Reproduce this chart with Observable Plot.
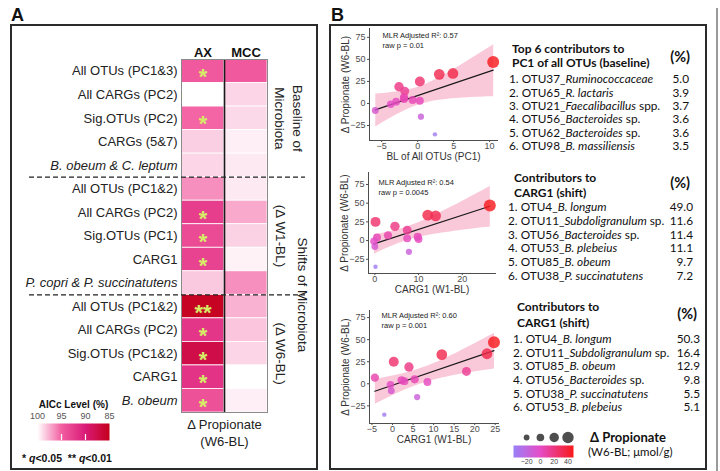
<!DOCTYPE html>
<html>
<head>
<meta charset="utf-8">
<script src="https://cdn.jsdelivr.net/npm/d3@7"></script>
<script src="https://cdn.jsdelivr.net/npm/@observablehq/plot@0.6"></script>
<style>
  html,body{margin:0;padding:0;background:#fff;}
  #root{position:relative;width:720px;height:471px;overflow:hidden;background:#fff;font-family:"Liberation Sans",Arial,Helvetica,sans-serif;color:#111;}
  #root > div{position:absolute;}
  #root svg{display:block;}
  .box{border:2px solid #2b2b2b;box-sizing:border-box;}
  .letter{font-weight:bold;font-size:18px;line-height:18px;}
  .tbl{font-family:Lato,"Open Sans",sans-serif;color:#111;white-space:nowrap;}
  .tbl-title{font-weight:bold;font-size:12px;}
  .tbl-pct{font-weight:bold;font-size:14.5px;line-height:16px;text-align:right;}
  .tbl-row{display:flex;justify-content:space-between;gap:4px;font-size:11.8px;}
  .tbl-row span{display:inline-block;}
</style>
</head>
<body>
<div id="root"></div>
<script>
// ---------------- DATA ----------------
// Panel A: heatmap of AICc level (%)
const rowLabels = ["All OTUs (PC1&3)", "All CARGs (PC2)", "Sig.OTUs (PC2)", "CARGs (5&7)", "B. obeum & C. leptum",
  "All OTUs (PC1&2)", "All CARGs (PC2)", "Sig.OTUs (PC1)", "CARG1", "P. copri & P. succinatutens",
  "All OTUs (PC1&2)", "All CARGs (PC2)", "Sig.OTUs (PC1&2)", "CARG1", "B. obeum"];
const rowItalic = [0, 0, 0, 0, 1, 0, 0, 0, 0, 1, 0, 0, 0, 0, 1];
const heatColumns = ["AX", "MCC"];
const aiccAX = [94.6, 100, 95.2, 98.5, 98.7, 96.5, 92.5, 93.5, 93.0, 98.3, 85.5, 92.0, 87.5, 91.8, 94.0];
const aiccMCC = [94.6, 98.7, 98.8, 99.5, 99.3, 99.3, 97.3, 98.6, 99.6, 96.5, 97.6, 98.2, 98.7, 100, 99.5];
const sigAX = ["*", "", "*", "", "", "", "*", "*", "*", "", "**", "*", "*", "*", "*"];
const groupBreaks = [5, 10];
const outerGroups = [{label: "Baseline of\nMicrobiota", from: 0, to: 5}, {label: "Shifts of Microbiota", from: 5, to: 15}];
const innerGroups = [{label: "(Δ W1-BL)", from: 5, to: 10}, {label: "(Δ W6-BL)", from: 10, to: 15}];
const heatXLabel = "Δ Propionate\n(W6-BL)";
const aiccTicks = [100, 95, 90, 85];
const aiccLegendTitle = "AICc Level (%)";

// Panel B: scatter plots (same subjects, Δ propionate W6-BL)
const deltaPropionate = [47, 34, 33, 25, 19, 14, 7, 5, 4, 3, 2, -1, -8, -15, -35];
const blAllOtusPC1 = [10.5, 4.9, 3.0, 0.3, -2.6, -1.8, -1.9, -1.9, -0.7, 0.3, -3.0, -3.75, -5.9, 0.45, 2.4];
const carg1ShiftA = [26.3, 12.1, 13.9, 0.15, 4.6, 7.4, 3.0, 9.8, 0.5, 7.4, 10.0, -0.2, 0.0, 7.8, 0.15];
const carg1ShiftB = [24.7, 23.0, 12.0, 0.3, 4.0, 18.0, -4.3, 5.4, 2.2, 2.9, 8.5, -0.5, -0.3, 6.0, -2.0];
const mlrR2 = ["0.57", "0.54", "0.60"];
const rawP = ["0.01", "0.0045", "0.001"];
const scatterYLabel = "Δ Propionate (W6-BL)";
const scatterXLabels = ["BL of All OTUs (PC1)", "CARG1 (W1-BL)", "CARG1 (W1-BL)"];
const xTickSets = [[-5, 0, 5, 10], [0, 10, 20], [-5, 0, 5, 10, 15, 20, 25]];
const yTicks = [-25, 0, 25, 50, 75];
const propLegendTicks = [-20, 0, 20, 40];
const propLegendTitle = "Δ Propionate";
const propLegendUnit = "(W6-BL; μmol/g)";

// Contributor tables
const table1Title = ["Top 6 contributors to", "PC1 of all OTUs (baseline)"];
const table1Names = ["OTU37_*Ruminococcaceae*", "OTU65_*R. lactaris*", "OTU21_*Faecalibacillus* spp.", "OTU56_*Bacteroides* sp.", "OTU62_*Bacteroides* sp.", "OTU98_*B. massiliensis*"];
const table1Pct = ["5.0", "3.9", "3.7", "3.6", "3.6", "3.5"];
const table2Title = ["Contributors to", "CARG1 (shift)"];
const table2Names = ["OTU4_*B. longum*", "OTU11_*Subdoligranulum* sp.", "OTU56_*Bacteroides* sp.", "OTU53_*B. plebeius*", "OTU85_*B. obeum*", "OTU38_*P. succinatutens*"];
const table2Pct = ["49.0", "11.6", "11.4", "11.1", "9.7", "7.2"];
const table3Title = ["Contributors to", "CARG1 (shift)"];
const table3Names = ["OTU4_*B. longum*", "OTU11_*Subdoligranulum* sp.", "OTU85_*B. obeum*", "OTU56_*Bacteroides* sp.", "OTU38_*P. succinatutens*", "OTU53_*B. plebeius*"];
const table3Pct = ["50.3", "16.4", "12.9", "9.8", "5.5", "5.1"];

// ---------------- SCALES ----------------
const aiccColor = {type: "linear", domain: [100, 95, 90, 85], range: ["#ffffff", "#f25fa0", "#da1a78", "#c4001a"], interpolate: "rgb", clamp: true};
const propColor = {type: "linear", domain: [-39, 0, 48], range: ["#9a80f7", "#e64cc6", "#f71a1a"], interpolate: "rgb", clamp: true};
const propR = {type: "linear", domain: [-35, 47], range: [2.2, 6], clamp: true};

// ---------------- HELPERS ----------------
const root = document.getElementById("root");
function place(el, left, top, width, height, cls) {
  const d = document.createElement("div");
  d.style.left = left + "px"; d.style.top = top + "px";
  if (width != null) d.style.width = width + "px";
  if (height != null) d.style.height = height + "px";
  if (cls) d.className = cls;
  if (el) { if (typeof el === "string") d.innerHTML = el; else d.appendChild(el); }
  root.appendChild(d);
  return d;
}
const italicize = s => s.replace(/\*(.+?)\*/g, "<i>$1</i>");
const baseFont = "'Liberation Sans', Arial, Helvetica, sans-serif";

// ---------------- FRAMES ----------------
place(null, 10, 24, 308, 446, "box");
place(null, 329, 24, 378, 446, "box");
place(null, 716, 8, 2, 463).style.background = "#9a9a9a";
place("A", 11, 6, null, null, "letter");
place("B", 331, 6, null, null, "letter");

// ---------------- PANEL A: HEATMAP ----------------
const rows = rowLabels.map((label, i) => ({label, row: i, italic: !!rowItalic[i], sig: sigAX[i]}));
const cells = rows.flatMap(r => [
  {row: r.row, col: 0, value: aiccAX[r.row]},
  {row: r.row, col: 1, value: aiccMCC[r.row]}
]);

const heat = Plot.plot({
  width: 306, height: 444,
  marginLeft: 170, marginRight: 50, marginTop: 34, marginBottom: 57,
  style: {fontFamily: baseFont, fontSize: "13px", color: "#222", background: "transparent", overflow: "visible"},
  x: {domain: [0, heatColumns.length], axis: null},
  y: {domain: [0, rows.length], reverse: true, axis: null},
  color: aiccColor,
  marks: [
    Plot.rect(cells, {x1: "col", x2: d => d.col + 1, y1: "row", y2: d => d.row + 1, fill: "value", stroke: "#ffffff", strokeWidth: 0.8}),
    Plot.ruleX([1], {stroke: "#1a1a1a", strokeWidth: 1.6}),
    Plot.frame({stroke: "#8a8a8a", strokeWidth: 1}),
    Plot.text(rows.filter(d => d.sig), {x: 0.5, y: d => d.row + 0.5, text: "sig", fill: "#d6ec66", fontSize: 22, fontWeight: "bold", dy: 6}),
    Plot.text(rows.filter(d => !d.italic), {x: 0, y: d => d.row + 0.5, text: "label", textAnchor: "end", dx: -4, fill: "#222"}),
    Plot.text(rows.filter(d => d.italic), {x: 0, y: d => d.row + 0.5, text: "label", textAnchor: "end", dx: -4, fontStyle: "italic", fill: "#222"}),
    Plot.text(heatColumns, {x: (d, i) => i + 0.5, frameAnchor: "top", dy: -12, fontWeight: "bold", fill: "#111"}),
    Plot.ruleY(groupBreaks, {stroke: "#222", strokeWidth: 1.2, strokeDasharray: "5,3", insetLeft: -152, insetRight: -38}),
    Plot.text([outerGroups[0]], {y: d => (d.from + d.to) / 2, text: "label", frameAnchor: "right", textAnchor: "middle", rotate: 90, dx: 22, lineHeight: 1.3, fontSize: 13.5, fill: "#222"}),
    Plot.text([outerGroups[1]], {y: d => (d.from + d.to) / 2, text: "label", frameAnchor: "right", textAnchor: "middle", rotate: 90, dx: 35, fontSize: 13.5, fill: "#222"}),
    Plot.text(innerGroups, {y: d => (d.from + d.to) / 2, text: "label", frameAnchor: "right", textAnchor: "middle", rotate: 90, dx: 13, fontSize: 13.5, fill: "#222"}),
    Plot.text([heatXLabel], {x: heatColumns.length / 2, frameAnchor: "bottom", dy: 33, lineHeight: 1.3, fill: "#222"})
  ]
});
place(heat, 11, 25, 306, 444);

// AICc legend
const aiccExtent = d3.extent(aiccTicks);
const aiccLegend = Plot.plot({
  width: 100, height: 45,
  marginLeft: 12, marginRight: 16, marginTop: 28, marginBottom: 0,
  style: {fontFamily: baseFont, fontSize: "9px", color: "#555", background: "transparent", overflow: "visible"},
  x: {domain: [aiccExtent[1], aiccExtent[0]], ticks: aiccTicks, axis: "top", tickSize: 0, tickPadding: 5, label: null},
  y: {domain: [0, 1], axis: null},
  color: aiccColor,
  marks: [
    Plot.raster({fill: (x, y) => x, x1: aiccExtent[1], x2: aiccExtent[0], y1: 0, y2: 1}),
    Plot.ruleX(aiccTicks.slice(1, -1), {stroke: "#fff", strokeWidth: 1.2, insetTop: 11}),
    Plot.text([aiccLegendTitle], {frameAnchor: "top", dy: -23, fontWeight: "bold", fontSize: 10, fill: "#111"})
  ]
});
place(aiccLegend, 25, 395, 100, 45);
place("* <i>q</i>&lt;0.05&nbsp;&nbsp;** <i>q</i>&lt;0.01", 22, 451, 130, 14).style.cssText += "font-weight:bold;font-size:10.5px;line-height:14px;";

// ---------------- PANEL B: SCATTERS ----------------
const scatterSpecs = [
  {xs: blAllOtusPC1, xDomain: [-6.7, 11.1], yDomain: [-42, 85], left: 335, top: 20, width: 170, height: 145, ml: 34, mr: 8, mt: 8, mb: 25, ndx: 13, ndy: 3},
  {xs: carg1ShiftA, xDomain: [-1.45, 27.6], yDomain: [-44, 91], left: 335, top: 164, width: 170, height: 136, ml: 33, mr: 10, mt: 8, mb: 27, ndx: 10, ndy: 6},
  {xs: carg1ShiftB, xDomain: [-5.6, 25.8], yDomain: [-45, 83], left: 335, top: 302, width: 170, height: 146, ml: 34, mr: 7, mt: 8, mb: 25, ndx: 12, ndy: 1}
];
scatterSpecs.forEach((s, k) => {
  const pts = deltaPropionate.map((y, i) => ({x: s.xs[i], y}));
  const p = Plot.plot({
    width: s.width, height: s.height,
    marginLeft: s.ml, marginRight: s.mr, marginTop: s.mt, marginBottom: s.mb,
    style: {fontFamily: baseFont, fontSize: "9px", color: "#4d4d4d", background: "transparent", overflow: "visible"},
    x: {domain: s.xDomain, ticks: xTickSets[k], tickSize: 2, tickPadding: 0, line: true, label: null},
    y: {domain: s.yDomain, ticks: yTicks, tickSize: 2, tickPadding: 2, line: true, label: null},
    color: propColor,
    r: propR,
    marks: [
      Plot.linearRegressionY(pts, {x: "x", y: "y", stroke: "#1a1a1a", strokeWidth: 1.2, fill: "#f27ea5", fillOpacity: 0.42}),
      Plot.dot(pts, {x: "x", y: "y", r: "y", fill: "y", fillOpacity: 0.82}),
      Plot.text([`MLR Adjusted R²: ${mlrR2[k]}\nraw p = ${rawP[k]}`], {frameAnchor: "top-left", textAnchor: "start", lineAnchor: "top", dx: s.ndx, dy: s.ndy, fontSize: 7.5, lineHeight: 1.25, fill: "#222"}),
      Plot.text([scatterYLabel], {frameAnchor: "left", textAnchor: "middle", rotate: -90, dx: -24, fontSize: 10, fill: "#333"}),
      Plot.text([scatterXLabels[k]], {frameAnchor: "bottom", dy: 19, fontSize: 10, fill: "#333"})
    ]
  });
  place(p, s.left, s.top, s.width, s.height);
});

// Δ Propionate legend
const propExtent = [propColor.domain[0], propColor.domain[propColor.domain.length - 1]];
const propLegend = Plot.plot({
  width: 80, height: 42,
  marginLeft: 8, marginRight: 12, marginTop: 17, marginBottom: 13,
  style: {fontFamily: baseFont, fontSize: "7px", color: "#444", background: "transparent", overflow: "visible"},
  x: {domain: propExtent, ticks: propLegendTicks, tickSize: 0, tickPadding: 2, label: null},
  y: {domain: [0, 1], axis: null},
  color: propColor,
  r: propR,
  marks: [
    Plot.raster({fill: (x, y) => x, x1: propExtent[0], x2: propExtent[1], y1: 0, y2: 1}),
    Plot.dot(propLegendTicks, {x: d => d, r: d => d, fill: "#444", fillOpacity: 0.95, frameAnchor: "top", dy: -8})
  ]
});
place(propLegend, 505, 428, 80, 42);
place(`<div style="font-weight:bold;font-size:13px;line-height:15px;">${propLegendTitle}</div><div style="font-size:11.5px;line-height:14px;margin-left:-2px;">${propLegendUnit}</div>`, 590, 430, 110, 32, "tbl");

// Tables
function table(title, names, pct, L) {
  const t = place(title.join("<br>"), L.titleLeft, L.titleTop, 200, null, "tbl tbl-title");
  t.style.lineHeight = L.titleLh + "px";
  place("(%)", L.pctRight - 40, L.pctTop, 40, null, "tbl tbl-pct");
  const body = names.map((n, i) => `<div class="tbl-row" style="line-height:${L.lh}px;height:${L.lh}px"><span>${i + 1}. ${italicize(n)}</span><span>${pct[i]}</span></div>`).join("");
  place(body, L.left, L.itemsTop, L.right - L.left, null, "tbl");
}
table(table1Title, table1Names, table1Pct, {titleLeft: 512, titleTop: 41.5, titleLh: 14.5, pctRight: 690, pctTop: 49, left: 509, itemsTop: 72.4, lh: 13.3, right: 689});
table(table2Title, table2Names, table2Pct, {titleLeft: 514, titleTop: 169.5, titleLh: 15, pctRight: 690, pctTop: 175, left: 508, itemsTop: 200, lh: 13.8, right: 693});
table(table3Title, table3Names, table3Pct, {titleLeft: 517, titleTop: 299, titleLh: 16, pctRight: 697, pctTop: 306, left: 513, itemsTop: 332.2, lh: 13.6, right: 700});
</script>
</body>
</html>
